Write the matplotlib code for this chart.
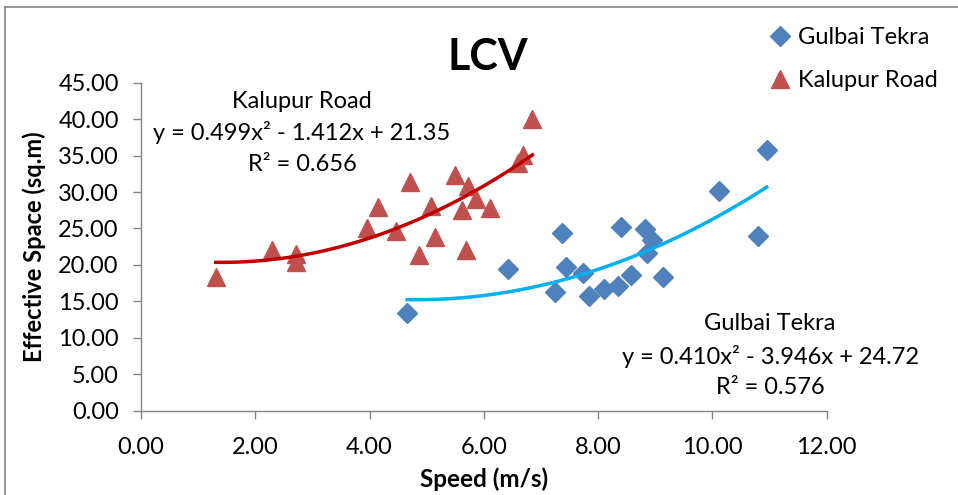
import numpy as np
import matplotlib
matplotlib.use("Agg")
import matplotlib.pyplot as plt
from matplotlib.lines import Line2D

# ---- data ----
kal_speed = [1.31, 2.30, 2.72, 2.72, 3.96, 4.14, 4.46, 4.70, 4.87, 5.07,
             5.14, 5.49, 5.61, 5.69, 5.73, 5.87, 6.11, 6.60, 6.68, 6.85]
kal_space = [18.38, 22.04, 21.50, 20.44, 25.02, 27.98, 24.65, 31.41, 21.36, 28.08,
             23.87, 32.33, 27.53, 22.04, 30.82, 29.00, 27.76, 33.94, 35.07, 39.97]

gul_speed = [4.66, 6.42, 7.24, 7.37, 7.44, 7.74, 7.84, 8.10, 8.34, 8.40,
             8.57, 8.82, 8.94, 8.85, 9.14, 10.11, 10.79, 10.95]
gul_space = [13.44, 19.39, 16.33, 24.33, 19.76, 18.93, 15.78, 16.65, 17.10, 25.24,
             18.66, 24.88, 23.42, 21.59, 18.30, 30.18, 23.96, 35.76]

kal_coef = [0.499, -1.412, 21.35]
gul_coef = [0.410, -3.946, 24.72]
kal_r2 = 0.656
gul_r2 = 0.576

series_names = ["Gulbai Tekra", "Kalupur Road"]
x_ticks = [0, 2, 4, 6, 8, 10, 12]
y_ticks = [0, 5, 10, 15, 20, 25, 30, 35, 40, 45]

# ---- style ----
W, H = 958, 495
FONT = "Lato"
plt.rcParams["font.family"] = [FONT, "DejaVu Sans"]
GRAY = "#868686"
BLUE = "#4F81BD"
RED = "#C0504D"
RED_LINE = "#C00000"
CYAN = "#00B0F0"

fig = plt.figure(figsize=(W / 100, H / 100), dpi=100)
ax = fig.add_axes([141 / W, 1 - 410.7 / H, (826.7 - 141) / W, (410.7 - 82.7) / H])

def fx(px):
    return px / W

def fy(py):
    return 1 - py / H

ax.plot(gul_speed, gul_space, linestyle="none", marker="D", ms=10.5,
        color=BLUE, mec=BLUE, label=series_names[0], zorder=3)
ax.plot(kal_speed, kal_space, linestyle="none", marker="^", ms=12.5,
        color=RED, mec=RED, label=series_names[1], zorder=3)

# polynomial trendlines over the data range
xk = np.linspace(min(kal_speed), max(kal_speed), 200)
ax.plot(xk, np.polyval(kal_coef, xk), color=RED_LINE, lw=2.5, zorder=4)
xg = np.linspace(min(gul_speed), max(gul_speed), 200)
ax.plot(xg, np.polyval(gul_coef, xg), color=CYAN, lw=2.5, zorder=4)

ax.set_xlim(0, 12)
ax.set_ylim(0, 45)
ax.set_xticks(x_ticks)
ax.set_yticks(y_ticks)
ax.set_xticklabels([f"{v:.2f}" for v in x_ticks])
ax.set_yticklabels([f"{v:.2f}" for v in y_ticks])
for s in ["top", "right"]:
    ax.spines[s].set_visible(False)
for s in ["left", "bottom"]:
    ax.spines[s].set_color(GRAY)
    ax.spines[s].set_linewidth(1.0)
    ax.spines[s].set_zorder(1)
ax.tick_params(axis="both", direction="out", length=6, width=1.0, color=GRAY,
               labelsize=17, labelcolor="black")
ax.tick_params(axis="y", pad=10)
ax.tick_params(axis="x", pad=13)
ax.patch.set_alpha(0)

ax.set_xlabel("Speed (m/s)", fontsize=17.5, fontweight="bold", labelpad=7)
ax.set_ylabel("Effective Space (sq.m)", fontsize=17, fontweight="bold", labelpad=9)

fig.text(fx(488), fy(57), "LCV", fontsize=31, fontweight="bold",
         ha="center", va="center")

def eq_text(c, r2):
    return (f"y = {c[0]:.3f}x² - {abs(c[1]):.3f}x + {c[2]:.2f}", f"R² = {r2:.3f}")

TS = 17
ke, kr = eq_text(kal_coef, kal_r2)
fig.text(fx(302), fy(101), series_names[1], fontsize=TS, ha="center", va="center")
fig.text(fx(302), fy(133), ke, fontsize=TS, ha="center", va="center")
fig.text(fx(302), fy(165), kr, fontsize=TS, ha="center", va="center")

ge, gr = eq_text(gul_coef, gul_r2)
fig.text(fx(770), fy(324), series_names[0], fontsize=TS, ha="center", va="center")
fig.text(fx(770), fy(356), ge, fontsize=TS, ha="center", va="center")
fig.text(fx(770), fy(388), gr, fontsize=TS, ha="center", va="center")

leg = fig.legend(loc="upper left", bbox_to_anchor=(fx(768), fy(27)),
                 frameon=False, fontsize=TS, numpoints=1, handlelength=1.0,
                 handletextpad=0.25, labelspacing=0.95, borderpad=0,
                 borderaxespad=0)

# outer chart border (left and top visible)
fig.add_artist(Line2D([fx(5), fx(5)], [fy(6.5), 0], color=GRAY, lw=1.2))
fig.add_artist(Line2D([fx(5), 1], [fy(6.5), fy(6.5)], color=GRAY, lw=1.2))

fig.savefig("out.png", dpi=100)
